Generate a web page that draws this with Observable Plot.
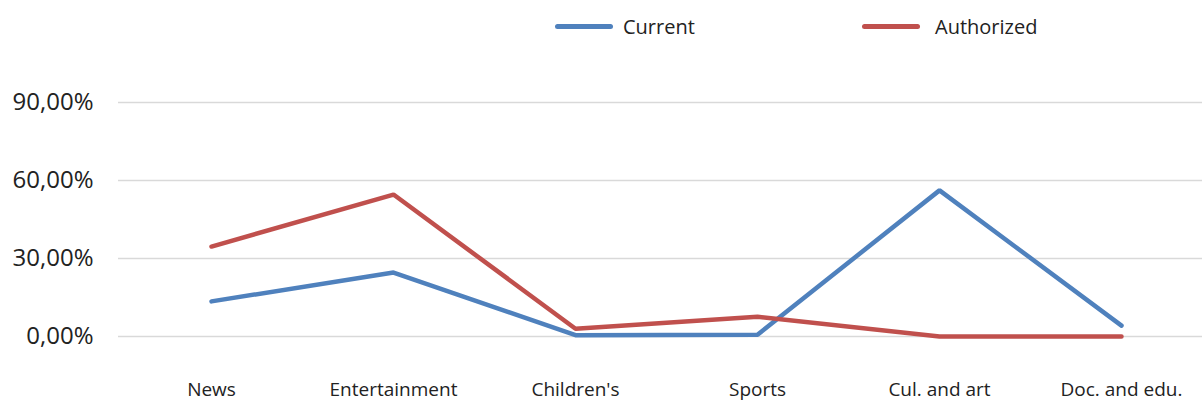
<!DOCTYPE html>
<html>
<head>
<meta charset="utf-8">
<script src="https://cdn.jsdelivr.net/npm/d3@7"></script>
<script src="https://cdn.jsdelivr.net/npm/@observablehq/plot@0.6"></script>
<style>
  html, body { margin: 0; padding: 0; background: #fff; }
  #wrap { width: 1202px; height: 403px; position: relative; overflow: hidden;
          font-family: "Open Sans", sans-serif; }
  #legend { height: 55px; position: relative; }
  .item { position: absolute; top: 13px; display: flex; align-items: center; font-size: 20px; color: #222; }
  .swatch { width: 58px; height: 5px; border-radius: 3px; margin-right: 10px; }
</style>
</head>
<body>
<div id="wrap">
  <div id="legend"></div>
  <div id="chart"></div>
</div>
<script>
const categories = ["News", "Entertainment", "Children's", "Sports", "Cul. and art", "Doc. and edu."];
const current    = [0.135, 0.246, 0.005, 0.007, 0.562, 0.042];
const authorized = [0.346, 0.546, 0.030, 0.076, 0.000, 0.000];
const yTicks = [0, 0.3, 0.6, 0.9];
const seriesNames = ["Current", "Authorized"];
const seriesColors = ["#4f81bd", "#c0504d"];

const data = [];
categories.forEach((c, i) => {
  data.push({category: c, series: "Current", value: current[i]});
  data.push({category: c, series: "Authorized", value: authorized[i]});
});

// legend
const legend = document.getElementById("legend");
const legendX = [555, 862];
seriesNames.forEach((s, i) => {
  const it = document.createElement("div");
  it.className = "item";
  it.style.left = legendX[i] + "px";
  const sw = document.createElement("div");
  sw.className = "swatch";
  sw.style.background = seriesColors[i];
  if (i === 1) sw.style.marginRight = "15px";
  it.appendChild(sw);
  const t = document.createElement("span");
  t.textContent = s;
  it.appendChild(t);
  legend.appendChild(it);
});

const fmt = d => (d * 100).toFixed(2).replace(".", ",") + "%";

const chart = Plot.plot({
  width: 1202,
  height: 348,
  marginLeft: 118,
  marginRight: 0,
  marginTop: 47,
  marginBottom: 67,
  style: {fontFamily: "\"Open Sans\", sans-serif", color: "#222", background: "#fff"},
  x: {type: "point", domain: categories, range: [210, 1122], padding: 0, label: null},
  y: {domain: [0, 0.9], label: null},
  color: {domain: seriesNames, range: seriesColors},
  marks: [
    Plot.ruleY(yTicks, {stroke: "#d9d9d9", strokeWidth: 1.5}),
    Plot.axisY({ticks: yTicks, tickFormat: fmt, tickSize: 0, tickPadding: 25, fontSize: 24, label: null}),
    Plot.axisX({tickSize: 0, tickPadding: 46, fontSize: 19, label: null}),
    Plot.line(data, {x: "category", y: "value", z: "series", stroke: "series", strokeWidth: 4.5, strokeLinejoin: "miter", strokeLinecap: "round"})
  ]
});
document.getElementById("chart").appendChild(chart);
</script>
</body>
</html>
